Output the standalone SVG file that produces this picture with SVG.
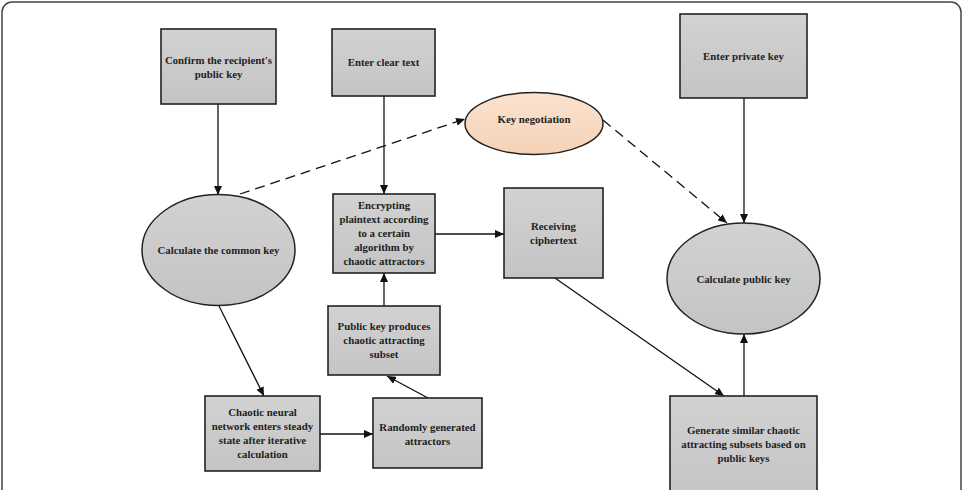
<svg xmlns="http://www.w3.org/2000/svg" width="965" height="490" viewBox="0 0 965 490">
<defs>
<linearGradient id="gray" x1="0" y1="0" x2="0" y2="1">
<stop offset="0" stop-color="#d2d2d2"/>
<stop offset="1" stop-color="#c4c4c4"/>
</linearGradient>
<linearGradient id="peach" x1="0" y1="0" x2="0" y2="1">
<stop offset="0" stop-color="#fbe3d0"/>
<stop offset="1" stop-color="#f5d2b6"/>
</linearGradient>
<marker id="arr" markerUnits="userSpaceOnUse" markerWidth="10" markerHeight="8" refX="9" refY="4" orient="auto">
<path d="M0,0 L9,4 L0,8 Z" fill="#111"/>
</marker>
</defs>
<style>
.box{fill:url(#gray);stroke:#222;stroke-width:1.6}
.oval{fill:url(#gray);stroke:#222;stroke-width:1.5}
.t{font-family:"Liberation Serif","Times New Roman",serif;font-weight:bold;font-size:10.8px;fill:#222;text-anchor:middle}
.c{fill:none;stroke:#111;stroke-width:1.3;marker-end:url(#arr)}
.d{fill:none;stroke:#111;stroke-width:1.3;stroke-dasharray:10 6;marker-end:url(#arr)}
</style>
<rect x="2" y="2" width="959" height="500" rx="10" fill="#fff" stroke="#444" stroke-width="1.5"/>

<g id="connectors">
<line class="c" x1="218" y1="104" x2="218" y2="195"/>
<line class="c" x1="384" y1="96" x2="384" y2="194"/>
<line class="d" x1="240" y1="194" x2="465" y2="119"/>
<line class="d" x1="603" y1="120" x2="727" y2="223"/>
<line class="c" x1="744" y1="98" x2="744" y2="223"/>
<line class="c" x1="435" y1="234" x2="504" y2="234"/>
<line class="c" x1="555" y1="278" x2="724" y2="396"/>
<line class="c" x1="744" y1="396" x2="744" y2="334"/>
<line class="c" x1="219" y1="306" x2="264" y2="396"/>
<line class="c" x1="320" y1="434" x2="373" y2="434"/>
<line class="c" x1="428" y1="398" x2="387" y2="376"/>
<line class="c" x1="384" y1="306" x2="384" y2="273"/>
</g>

<g id="confirm">
<rect class="box" x="161" y="29" width="115" height="75"/>
<text class="t" x="218.5" y="63.5">Confirm the recipient's</text>
<text class="t" x="218.5" y="77.5">public key</text>
</g>
<g id="enter-clear">
<rect class="box" x="332" y="29" width="103" height="67"/>
<text class="t" x="383.5" y="66">Enter clear text</text>
</g>
<g id="key-negotiation">
<ellipse cx="534" cy="123.5" rx="69" ry="31" fill="url(#peach)" stroke="#222" stroke-width="1.5"/>
<text class="t" x="534" y="122.5">Key negotiation</text>
</g>
<g id="enter-private">
<rect class="box" x="680" y="14" width="127" height="84"/>
<text class="t" x="743.5" y="59.5">Enter private key</text>
</g>
<g id="common-key">
<ellipse class="oval" cx="218.5" cy="250" rx="76.5" ry="55.5"/>
<text class="t" x="218.5" y="253.5">Calculate the common key</text>
</g>
<g id="encrypting">
<rect class="box" x="333" y="194" width="102" height="79"/>
<text class="t" x="384" y="208.5">Encrypting</text>
<text class="t" x="384" y="222.5">plaintext according</text>
<text class="t" x="384" y="236.5">to a certain</text>
<text class="t" x="384" y="250.5">algorithm by</text>
<text class="t" x="384" y="264.5">chaotic attractors</text>
</g>
<g id="receiving">
<rect class="box" x="504" y="188" width="99" height="90"/>
<text class="t" x="553.5" y="229.5">Receiving</text>
<text class="t" x="553.5" y="243.5">ciphertext</text>
</g>
<g id="calc-public">
<ellipse class="oval" cx="743.5" cy="278.5" rx="76.5" ry="55.5"/>
<text class="t" x="743.5" y="282.5">Calculate public key</text>
</g>
<g id="public-produces">
<rect class="box" x="328" y="306" width="112" height="69"/>
<text class="t" x="384" y="329.5">Public key produces</text>
<text class="t" x="384" y="343.5">chaotic attracting</text>
<text class="t" x="384" y="357.5">subset</text>
</g>
<g id="chaotic-neural">
<rect class="box" x="205" y="396" width="115" height="75"/>
<text class="t" x="262.5" y="415.5">Chaotic neural</text>
<text class="t" x="262.5" y="429.5">network enters steady</text>
<text class="t" x="262.5" y="443.5">state after iterative</text>
<text class="t" x="262.5" y="457.5">calculation</text>
</g>
<g id="randomly">
<rect class="box" x="373" y="398" width="109" height="70"/>
<text class="t" x="427.5" y="430.5">Randomly generated</text>
<text class="t" x="427.5" y="444.5">attractors</text>
</g>
<g id="generate">
<rect class="box" x="670" y="396" width="147" height="110"/>
<text class="t" x="743.5" y="433.5">Generate similar chaotic</text>
<text class="t" x="743.5" y="447.5">attracting subsets based on</text>
<text class="t" x="743.5" y="461.5">public keys</text>
</g>
</svg>
